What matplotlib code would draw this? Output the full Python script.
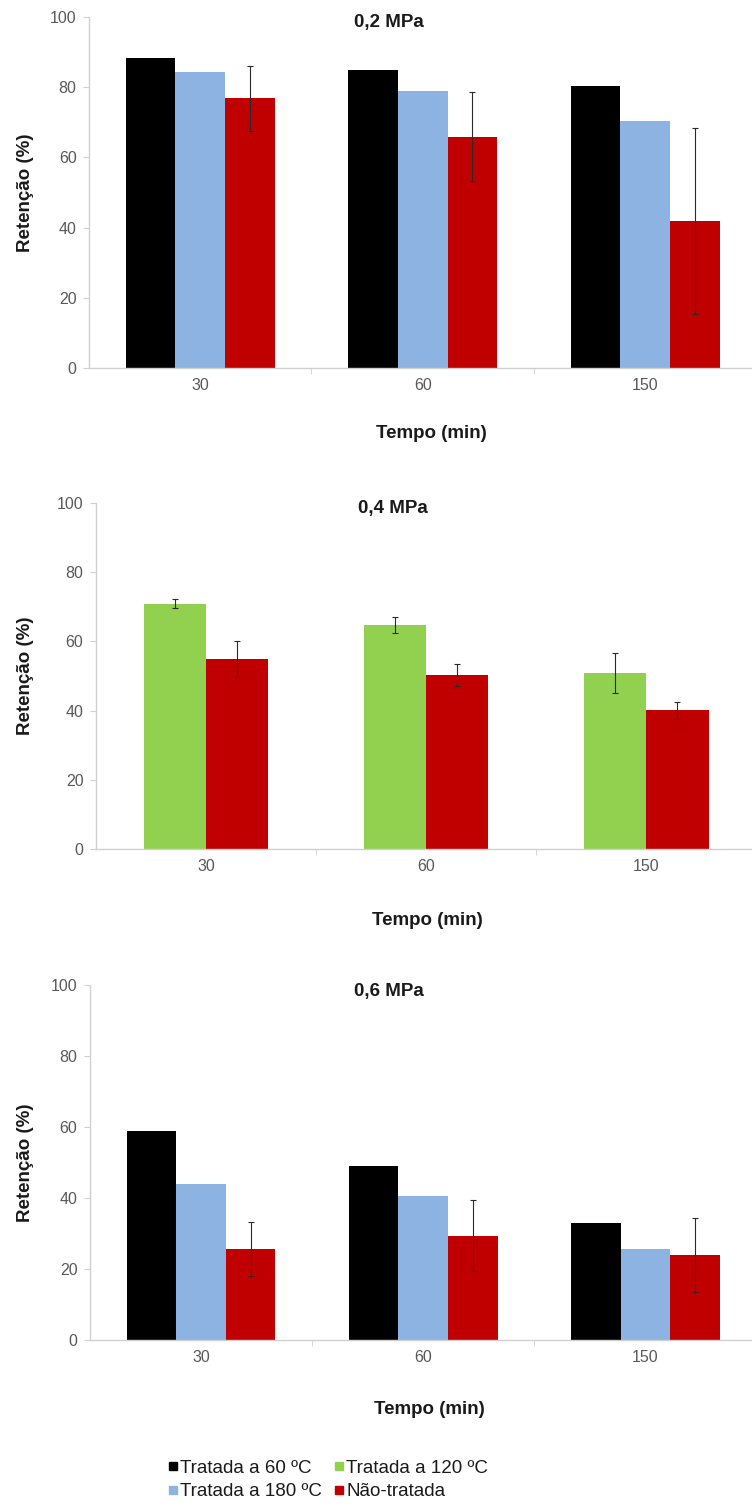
import matplotlib
matplotlib.use("Agg")
import matplotlib.pyplot as plt
from matplotlib.lines import Line2D
import numpy as np

plt.rcParams['font.family'] = ['Liberation Sans', 'DejaVu Sans']

categories = ["30", "60", "150"]

# 0,2 MPa
p1_t60 = [88.3, 84.8, 80.3]
p1_t180 = [84.3, 78.9, 70.4]
p1_nt = [76.8, 65.9, 41.9]
p1_nt_err = [9.2, 12.6, 26.6]

# 0,4 MPa
p2_t120 = [70.9, 64.7, 50.9]
p2_t120_err = [1.3, 2.3, 5.7]
p2_nt = [54.9, 50.3, 40.1]
p2_nt_err = [5.2, 3.3, 2.5]

# 0,6 MPa
p3_t60 = [58.9, 48.9, 32.9]
p3_t180 = [44.0, 40.5, 25.6]
p3_nt = [25.6, 29.4, 23.9]
p3_nt_err = [7.7, 9.9, 10.4]

titles = ["0,2 MPa", "0,4 MPa", "0,6 MPa"]
series_labels = ["Tratada a 60 ºC", "Tratada a 120 ºC", "Tratada a 180 ºC", "Não-tratada"]

C_BLACK = "#000000"
C_GREEN = "#92d050"
C_BLUE = "#8db3e2"
C_RED = "#c00000"
GRAY = "#595959"
SPINE = "#d0d0d0"
TXT = "#1a1a1a"

W, H = 752, 1508
fig = plt.figure(figsize=(W / 100, H / 100), dpi=100)

def px_axes(left, top, bottom, right=752):
    return fig.add_axes([left / W, 1 - bottom / H, (right - left) / W, (bottom - top) / H])

ax1 = px_axes(89, 17, 368)
ax2 = px_axes(96, 503, 849)
ax3 = px_axes(90, 985, 1340)

x = np.arange(len(categories))
err_kw = dict(ecolor="#2a2a2a", elinewidth=0.8, capsize=2.5, capthick=0.8)

w1 = 0.223
ax1.bar(x - w1, p1_t60, w1, color=C_BLACK)
ax1.bar(x, p1_t180, w1, color=C_BLUE)
ax1.bar(x + w1, p1_nt, w1, color=C_RED, yerr=p1_nt_err, error_kw=err_kw)

w2 = 0.283
ax2.bar(x - w2 / 2, p2_t120, w2, color=C_GREEN, yerr=p2_t120_err, error_kw=err_kw)
ax2.bar(x + w2 / 2, p2_nt, w2, color=C_RED, yerr=p2_nt_err, error_kw=err_kw)

ax3.bar(x - w1, p3_t60, w1, color=C_BLACK)
ax3.bar(x, p3_t180, w1, color=C_BLUE)
ax3.bar(x + w1, p3_nt, w1, color=C_RED, yerr=p3_nt_err, error_kw=err_kw)

BOLD_FS = 13.5
TICK_FS = 11.5

xlabel_pos = [(431, 434), (427, 920), (429, 1410)]
for ax, title, (xlx, xly) in zip([ax1, ax2, ax3], titles, xlabel_pos):
    ax.set_xlim(-0.5, 2.48)
    ax.set_ylim(0, 100)
    ax.set_yticks([0, 20, 40, 60, 80, 100])
    ax.set_xticks(x)
    ax.set_xticklabels(categories)
    ax.set_xticks([0.5, 1.5], minor=True)
    ax.tick_params(axis='x', which='major', length=0, pad=7, labelsize=TICK_FS, labelcolor=GRAY)
    ax.tick_params(axis='x', which='minor', length=4, color=SPINE, direction='out')
    ax.tick_params(axis='y', length=4, color=SPINE, pad=5, labelsize=TICK_FS, labelcolor=GRAY)
    for s in ['top', 'right']:
        ax.spines[s].set_visible(False)
    for s in ['left', 'bottom']:
        ax.spines[s].set_color(SPINE)
        ax.spines[s].set_linewidth(1.0)
    ax.text(0.452, 0.983, title, transform=ax.transAxes, ha='center', va='center',
            fontsize=BOLD_FS, fontweight='bold', color=TXT)
    pos = ax.get_position()
    fig.text(25 / W, (pos.y0 + pos.y1) / 2, "Retenção (%)", rotation=90, ha='center', va='center',
             fontsize=BOLD_FS, fontweight='bold', color=TXT)
    fig.text(xlx / W, 1 - xly / H, "Tempo (min)", ha='center', va='center',
             fontsize=BOLD_FS, fontweight='bold', color=TXT)

handles = [
    Line2D([], [], linestyle='none', marker='s', markersize=6, color=C_BLACK),
    Line2D([], [], linestyle='none', marker='s', markersize=6, color=C_BLUE),
    Line2D([], [], linestyle='none', marker='s', markersize=6, color=C_GREEN),
    Line2D([], [], linestyle='none', marker='s', markersize=6, color=C_RED),
]
labels = [series_labels[0], series_labels[2], series_labels[1], series_labels[3]]
fig.legend(handles, labels, ncol=2, loc='center left', bbox_to_anchor=(152 / W, 1 - 1480 / H),
           frameon=False, fontsize=13.5, handletextpad=0.0, handlelength=0.8,
           columnspacing=0.5, labelspacing=0.35, labelcolor=TXT, borderpad=0.2)

fig.savefig("out.png", dpi=100)
